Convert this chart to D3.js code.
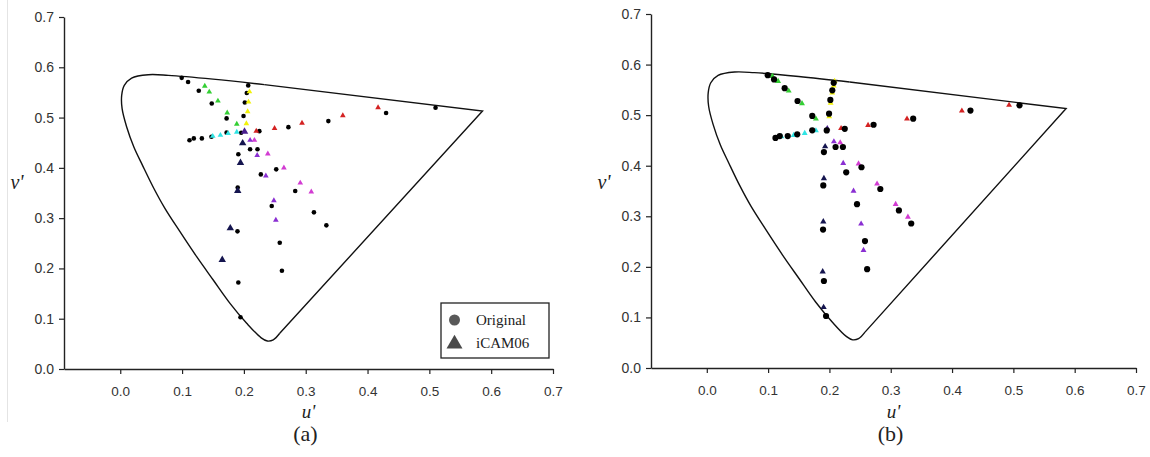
<!DOCTYPE html>
<html>
<head>
<meta charset="utf-8">
<script src="https://cdn.jsdelivr.net/npm/d3@7"></script>
<style>
  html, body { margin: 0; padding: 0; background: #fff; }
  svg { display: block; }
</style>
</head>
<body>
<svg id="chart" width="1150" height="457"></svg>
<script>
// ---------------- data ----------------
const xTicks = [0.0, 0.1, 0.2, 0.3, 0.4, 0.5, 0.6, 0.7];
const yTicks = [0.0, 0.1, 0.2, 0.3, 0.4, 0.5, 0.6, 0.7];
const panelLabels = ["(a)", "(b)"];
const legendLabels = ["Original", "iCAM06"];

// spectrum locus (u', v')
const locusCurve = [[0.258,0.071],[0.2475,0.058],[0.238,0.0557],[0.228,0.062],[0.2045,0.091],
  [0.1775,0.1306],[0.1504,0.177],[0.1236,0.2233],[0.0966,0.273],[0.072,0.32],[0.054,0.36],
  [0.036,0.405],[0.022,0.4414],[0.0104,0.4812],[0.003,0.5176],[0.0023,0.544],[0.0065,0.564],
  [0.0184,0.5786],[0.0453,0.5852],[0.0777,0.584],[0.15,0.5765],[0.233,0.5655]];
const locusEdge = [[0.233,0.5655],[0.586,0.513],[0.258,0.071]];

// Original samples (black circles), same in both panels
const originalU = [0.0994,0.1097,0.127,0.148,0.172,
  0.112,0.119,0.132,0.1475,0.172,
  0.207,0.2047,0.2015,0.1994,0.1956,
  0.225,0.272,0.3366,0.43,0.51,
  0.222,0.2523,0.283,0.3133,0.3334,
  0.21,0.2274,0.245,0.258,0.2615,
  0.191,0.19,0.1896,0.191,0.1945];
const originalV = [0.579,0.5706,0.5533,0.528,0.4984,
  0.455,0.4586,0.4586,0.462,0.47,
  0.564,0.549,0.530,0.503,0.4698,
  0.473,0.481,0.493,0.509,0.5195,
  0.437,0.397,0.354,0.3115,0.2857,
  0.437,0.387,0.324,0.251,0.1955,
  0.427,0.361,0.2737,0.172,0.1028];

// iCAM06 predictions, panel (a)
const icamAHue = ["green","green","green","green","green",
  "cyan","cyan","cyan","cyan",
  "yellow","yellow","yellow","yellow",
  "red","red","red","red","red",
  "magenta","magenta","magenta","magenta","magenta",
  "violet","violet","violet","violet","violet",
  "navy","navy","navy","navy","navy","center"];
const icamAU = [0.1367,0.144,0.158,0.173,0.1885,
  0.1496,0.162,0.1745,0.1885,
  0.209,0.2075,0.206,0.204,
  0.22,0.2496,0.294,0.36,0.417,
  0.217,0.2387,0.2647,0.2912,0.309,
  0.21,0.2215,0.2355,0.2485,0.2517,
  0.198,0.1945,0.19,0.178,0.165,0.201];
const icamAV = [0.5626,0.551,0.533,0.5096,0.487,
  0.463,0.465,0.4685,0.471,
  0.5514,0.531,0.512,0.488,
  0.473,0.4785,0.489,0.504,0.520,
  0.455,0.428,0.400,0.370,0.3525,
  0.455,0.4248,0.384,0.335,0.296,
  0.449,0.410,0.3545,0.28,0.217,0.472];

// iCAM06 predictions, panel (b)
const icamBHue = ["green","green","green","green","green",
  "cyan","cyan","cyan","cyan",
  "yellow","yellow","yellow","yellow","yellow",
  "red","red","red","red","red",
  "magenta","magenta","magenta","magenta","magenta",
  "violet","violet","violet","violet","violet",
  "navy","navy","navy","navy","navy","center"];
const icamBU = [0.107,0.1163,0.1336,0.1553,0.178,
  0.1217,0.1417,0.1597,0.178,
  0.2085,0.207,0.2046,0.202,0.1997,
  0.219,0.263,0.3265,0.416,0.493,
  0.2176,0.2475,0.2777,0.308,0.328,
  0.2073,0.2225,0.2393,0.2517,0.2556,
  0.193,0.191,0.19,0.189,0.1905,0.1965];
const icamBV = [0.577,0.567,0.548,0.523,0.4926,
  0.4576,0.4603,0.4643,0.4695,
  0.567,0.558,0.544,0.524,0.497,
  0.474,0.480,0.4926,0.5084,0.520,
  0.4457,0.404,0.364,0.3238,0.2987,
  0.4477,0.405,0.350,0.2849,0.2328,
  0.438,0.375,0.2895,0.1905,0.120,0.4735];

const hueColors = {
  green: "#34cf34", cyan: "#30e4e4", yellow: "#f2f20a", red: "#d42222",
  magenta: "#d23cd2", violet: "#8a2fd2", navy: "#15154f", center: "#4a1f8f"
};

// ---------------- drawing ----------------
const svg = d3.select("#chart");
svg.append("rect").attr("width", 1150).attr("height", 457).attr("fill", "#fff");
svg.append("line").attr("x1", 7.5).attr("x2", 7.5).attr("y1", 0).attr("y2", 422)
  .attr("stroke", "#e4e4e4").attr("stroke-width", 1);

const panels = [
  { x0: 64, x1: 553, y0: 369, y1: 17, hue: icamAHue, u: icamAU, v: icamAV,
    dotR: 2.3, triSize: 14, navySize: 24, legend: true, dotsFirst: true },
  { x0: 651, x1: 1136, y0: 368, y1: 14, hue: icamBHue, u: icamBU, v: icamBV,
    dotR: 3.1, triSize: 15, navySize: 17, legend: false, dotsFirst: false }
];

panels.forEach((p, pi) => {
  const x = d3.scaleLinear().domain([-0.091, 0.7]).range([p.x0, p.x1]);
  const y = d3.scaleLinear().domain([0, 0.7]).range([p.y0, p.y1]);
  const g = svg.append("g");

  // axes
  const xAxis = d3.axisBottom(x).tickValues(xTicks).tickFormat(d3.format(".1f"))
    .tickSize(5).tickSizeOuter(0).tickPadding(12);
  const yAxis = d3.axisLeft(y).tickValues(yTicks).tickFormat(d3.format(".1f"))
    .tickSize(5).tickSizeOuter(0).tickPadding(5);
  const gx = g.append("g").attr("transform", `translate(0,${p.y0})`).call(xAxis);
  const gy = g.append("g").attr("transform", `translate(${p.x0},0)`).call(yAxis);
  [gx, gy].forEach(a => {
    a.select(".domain").attr("stroke", "#222").attr("stroke-width", 1.4);
    a.selectAll(".tick line").attr("stroke", "#222").attr("stroke-width", 1.2);
    a.selectAll(".tick text").attr("fill", "#333")
      .attr("font-family", "'Liberation Sans', Arial, sans-serif");
  });
  gx.selectAll(".tick text").attr("font-size", 13.5);
  gy.selectAll(".tick text").attr("font-size", 14);

  // spectrum locus
  g.append("path").datum(locusCurve)
    .attr("d", d3.line().x(d => x(d[0])).y(d => y(d[1])).curve(d3.curveCatmullRom.alpha(0.5)))
    .attr("fill", "none").attr("stroke", "#111").attr("stroke-width", 1.4);
  g.append("path").datum(locusEdge)
    .attr("d", d3.line().x(d => x(d[0])).y(d => y(d[1])))
    .attr("fill", "none").attr("stroke", "#111").attr("stroke-width", 1.4);

  const drawDots = () => {
    g.append("g").selectAll("circle").data(originalU.map((u, i) => [u, originalV[i]]))
      .join("circle").attr("cx", d => x(d[0])).attr("cy", d => y(d[1]))
      .attr("r", p.dotR).attr("fill", "#000");
  };
  const drawTris = () => {
    const sym = d3.symbol().type(d3.symbolTriangle);
    g.append("g").selectAll("path").data(p.u.map((u, i) => [u, p.v[i], p.hue[i]]))
      .join("path")
      .attr("transform", d => `translate(${x(d[0])},${y(d[1])})`)
      .attr("d", d => sym.size(d[2] === "navy" || d[2] === "center" ? p.navySize : p.triSize)())
      .attr("fill", d => hueColors[d[2]]);
  };
  if (p.dotsFirst) { drawDots(); drawTris(); } else { drawTris(); drawDots(); }

  // axis titles
  const cx = (p.x0 + p.x1) / 2;
  g.append("text").text("v'").attr("x", p.x0 - 47).attr("y", 189)
    .attr("text-anchor", "middle").attr("font-family", "'Liberation Serif', 'Times New Roman', serif")
    .attr("font-style", "italic").attr("font-size", 20).attr("fill", "#222");
  g.append("text").text("u'").attr("x", cx).attr("y", 418)
    .attr("text-anchor", "middle").attr("font-family", "'Liberation Serif', 'Times New Roman', serif")
    .attr("font-style", "italic").attr("font-size", 19).attr("fill", "#222");
  g.append("text").text(panelLabels[pi]).attr("x", cx - 3).attr("y", 441)
    .attr("text-anchor", "middle").attr("font-family", "'Liberation Serif', 'Times New Roman', serif")
    .attr("font-size", 22).attr("fill", "#222");

  if (p.legend) {
    const lg = g.append("g");
    lg.append("rect").attr("x", 441).attr("y", 303).attr("width", 108).attr("height", 55)
      .attr("fill", "#fff").attr("stroke", "#222").attr("stroke-width", 1.3);
    lg.append("circle").attr("cx", 454.5).attr("cy", 320).attr("r", 5.5).attr("fill", "#595959");
    lg.append("path").attr("transform", "translate(454.5,344)")
      .attr("d", d3.symbol().type(d3.symbolTriangle).size(110)()).attr("fill", "#4a4a4a");
    legendLabels.forEach((t, i) => {
      lg.append("text").text(t).attr("x", 476).attr("y", 325 + i * 22.5)
        .attr("font-family", "'Liberation Serif', 'Times New Roman', serif")
        .attr("font-size", 15).attr("fill", "#222");
    });
  }
});
</script>
</body>
</html>
